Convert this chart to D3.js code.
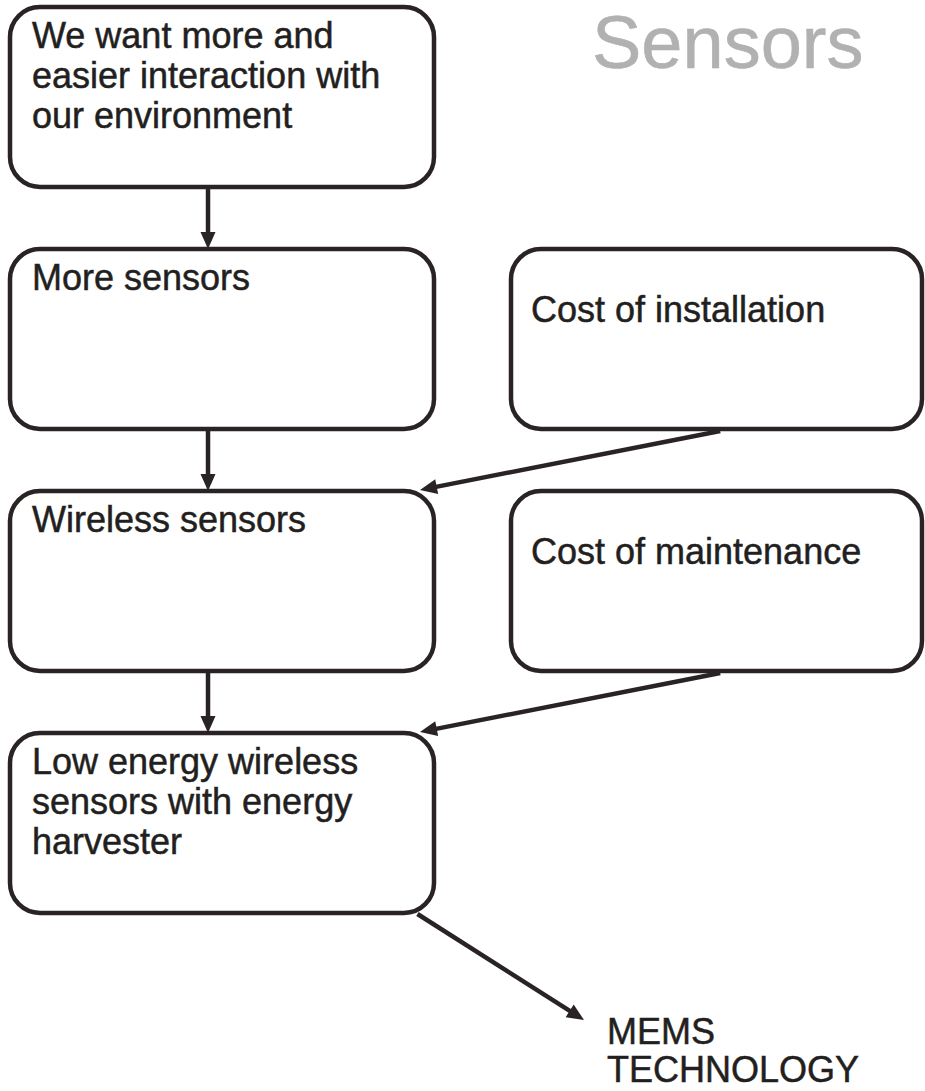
<!DOCTYPE html>
<html>
<head>
<meta charset="utf-8">
<script src="https://cdn.jsdelivr.net/npm/d3@7/dist/d3.min.js"></script>
<style>
  html, body { margin: 0; padding: 0; background: #fff; }
  svg { display: block; font-family: "Liberation Sans", Arial, Helvetica, sans-serif; }
</style>
</head>
<body>
<div id="chart"></div>
<script>
// Flowchart content
const title = "Sensors";
const nodeLabels = [
  ["We want more and", "easier interaction with", "our environment"],
  ["More sensors"],
  ["Wireless sensors"],
  ["Low energy wireless", "sensors with energy", "harvester"],
  ["Cost of installation"],
  ["Cost of maintenance"]
];
const nodeRow = [0, 1, 2, 3, 1, 2];
const nodeCol = [0, 0, 0, 0, 1, 1];
const endLabel = ["MEMS", "TECHNOLOGY"];
// edges: source node -> target node ("end" = final label)
const edgeSource = [0, 1, 2, 4, 5, 3];
const edgeTarget = [1, 2, 3, 2, 3, "end"];

const width = 925, height = 1091;
const ink = "#2a2324", textInk = "#231f20";

const svg = d3.select("#chart").append("svg")
  .attr("width", width).attr("height", height);

// layout scales
const yRow = d3.scaleBand().domain([0, 1, 2, 3]).range([7, 913]).paddingInner(62 / 242).paddingOuter(0);
const xCol = d3.scaleOrdinal().domain([0, 1]).range([10, 511]);
const wCol = d3.scaleOrdinal().domain([0, 1]).range([424, 411]);
const textDy = d3.scaleOrdinal().domain([0, 1]).range([41, 73]);
const textDx = d3.scaleOrdinal().domain([0, 1]).range([22, 20]);

const nodes = nodeLabels.map((lines, i) => ({
  lines,
  x: xCol(nodeCol[i]),
  y: yRow(nodeRow[i]),
  w: wCol(nodeCol[i]),
  h: yRow.bandwidth(),
  col: nodeCol[i]
}));

// title
svg.append("text")
  .attr("x", 592).attr("y", 68)
  .attr("font-size", 74)
  .attr("fill", "#b1b1b1")
  .attr("stroke", "#b1b1b1").attr("stroke-width", 0.6)
  .text(title);

// boxes
const g = svg.selectAll(".node").data(nodes).join("g").attr("class", "node");
g.append("rect")
  .attr("x", d => d.x).attr("y", d => d.y)
  .attr("width", d => d.w).attr("height", d => d.h)
  .attr("rx", 30).attr("ry", 30)
  .attr("fill", "none").attr("stroke", ink).attr("stroke-width", 4.5);
g.each(function (d) {
  d3.select(this).selectAll("text").data(d.lines).join("text")
    .attr("x", d.x + textDx(d.col))
    .attr("y", (t, i) => d.y + textDy(d.col) + i * 40)
    .attr("font-size", 36)
    .attr("fill", textInk)
    .attr("stroke", textInk).attr("stroke-width", 0.5)
    .text(t => t);
});

// end label
const endPos = { x: 607, y: 1044 };
svg.append("g").selectAll("text").data(endLabel).join("text")
  .attr("x", endPos.x)
  .attr("y", (t, i) => endPos.y + i * 38)
  .attr("font-size", 36)
  .attr("fill", textInk)
  .attr("stroke", textInk).attr("stroke-width", 0.5)
  .text(t => t);

// edge endpoints
function anchors(s, t) {
  const a = nodes[s];
  if (t === "end") return [[a.x + 0.961 * a.w, a.y + a.h + 1], [584, 1020]];
  const b = nodes[t];
  if (a.col === b.col) {
    const x = a.x + 0.467 * a.w;
    return [[x, a.y + a.h], [x, b.y]];
  }
  return [[a.x + 0.509 * a.w, a.y + a.h + 2], [b.x + b.w - 14, b.y - 1]];
}

const head = 17, half = 7.5;
const edges = edgeSource.map((s, i) => anchors(s, edgeTarget[i]));
const eg = svg.append("g");
edges.forEach(([p0, p1]) => {
  const ang = Math.atan2(p1[1] - p0[1], p1[0] - p0[0]);
  const ux = Math.cos(ang), uy = Math.sin(ang);
  const bx = p1[0] - ux * head, by = p1[1] - uy * head;
  eg.append("line")
    .attr("x1", p0[0]).attr("y1", p0[1])
    .attr("x2", bx + ux * 2).attr("y2", by + uy * 2)
    .attr("stroke", ink).attr("stroke-width", 4.5);
  const pts = [
    [p1[0], p1[1]],
    [bx - uy * half, by + ux * half],
    [bx + uy * half, by - ux * half]
  ];
  eg.append("path")
    .attr("d", d3.line()(pts) + "Z")
    .attr("fill", ink);
});
</script>
</body>
</html>
